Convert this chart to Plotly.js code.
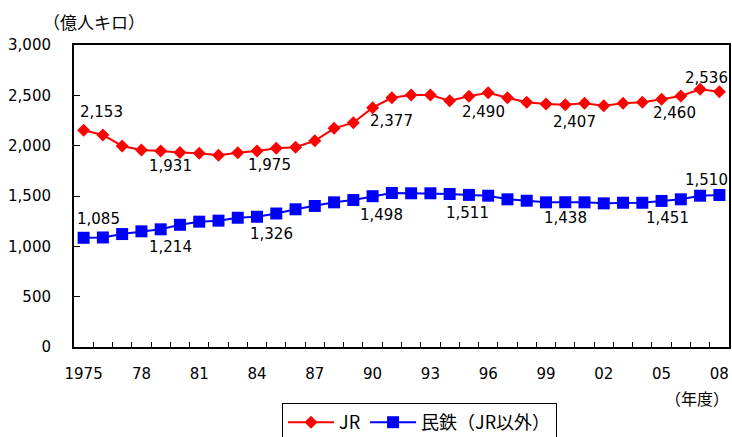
<!DOCTYPE html>
<html>
<head>
<meta charset="utf-8">
<script src="https://cdn.plot.ly/plotly-3.0.1.min.js"></script>
<style>html,body{margin:0;padding:0;background:#fff;}#chart{width:732px;height:437px;}</style>
</head>
<body>
<div id="chart"></div>
<script>
// ---- data ----
const years = [1975,1976,1977,1978,1979,1980,1981,1982,1983,1984,1985,1986,1987,1988,1989,1990,1991,1992,1993,1994,1995,1996,1997,1998,1999,2000,2001,2002,2003,2004,2005,2006,2007,2008];
const jr = [2153,2106,1997,1957,1947,1931,1924,1904,1930,1947,1975,1984,2049,2172,2228,2377,2476,2503,2503,2447,2490,2526,2476,2431,2414,2407,2421,2397,2421,2431,2460,2493,2560,2536];
const minetsu = [1085,1088,1122,1149,1169,1214,1245,1255,1284,1294,1326,1368,1401,1437,1460,1498,1530,1527,1527,1520,1511,1503,1467,1453,1437,1438,1437,1427,1433,1433,1451,1467,1503,1510];
const xTickVals = [1975,1978,1981,1984,1987,1990,1993,1996,1999,2002,2005,2008];
const xTickText = ["1975","78","81","84","87","90","93","96","99","02","05","08"];
const labelYears = [1975,1980,1985,1990,1995,2000,2005,2008];
const seriesNames = ["JR","民鉄（JR以外）"];
const yUnit = "（億人キロ）";
const xUnit = "（年度）";

// ---- styling / label positions ----
const FONT = "'DejaVu Sans', 'Noto Sans CJK JP', sans-serif";
const JFONT = "'Noto Sans CJK JP', sans-serif";
const jrOffsets = {1975:[18,-18],1980:[-9,13],1985:[-7,17],1990:[19,13],1995:[15,16],2000:[9,17],2005:[13,14],2008:[-13,-14]};
const miOffsets = {1975:[15,-19],1980:[-9,22],1985:[-5,20],1990:[9,19],1995:[-1,18],2000:[0,16],2005:[6,17],2008:[-13,-15]};

function fmt(v){ return v.toLocaleString('en-US'); }

const annotations = [];
function addLabels(vals, offs){
  labelYears.forEach(function(yr){
    const i = years.indexOf(yr);
    const o = offs[yr];
    annotations.push({x: yr, y: vals[i], xref:'x', yref:'y', text: fmt(vals[i]), showarrow:false,
      xanchor:'center', yanchor:'middle', xshift:o[0], yshift:-o[1], font:{family:FONT, size:15, color:'#000'}});
  });
}
addLabels(jr, jrOffsets);
addLabels(minetsu, miOffsets);
annotations.push({x:(93.5-74)/655, y:(347-21.7)/302, xref:'paper', yref:'paper', text:yUnit, showarrow:false,
  xanchor:'center', yanchor:'middle', font:{family:JFONT, size:17, color:'#000'}});
annotations.push({x:(731-74)/655, y:(347-398.3)/302, xref:'paper', yref:'paper', text:xUnit, showarrow:false,
  xanchor:'right', yanchor:'middle', font:{family:JFONT, size:16, color:'#000'}});

const boundaries = [];
for (let k = 0; k <= years.length; k++) boundaries.push(years[0] - 0.5 + k);

const traces = [
  {x: years, y: jr, name: seriesNames[0], type:'scatter', mode:'lines+markers',
   line:{color:'#ff0000', width:2}, marker:{symbol:'diamond', size:10, color:'#ff0000'}},
  {x: years, y: minetsu, name: seriesNames[1], type:'scatter', mode:'lines+markers',
   line:{color:'#0000ff', width:2}, marker:{symbol:'square', size:12, color:'#0000ff'}},
  {x: [years[0]], y: [0], xaxis:'x2', yaxis:'y', mode:'markers', marker:{opacity:0}, showlegend:false, hoverinfo:'skip'}
];

const xr = [years[0]-0.5, years[years.length-1]+0.5];
const layout = {
  width:732, height:437,
  margin:{l:74, r:3, t:45, b:90, autoexpand:false},
  paper_bgcolor:'#fff', plot_bgcolor:'#fff',
  showlegend:true,
  font:{family:FONT, size:15, color:'#000'},
  xaxis:{range:xr, tickmode:'array', tickvals:boundaries, showticklabels:false,
    ticks:'inside', ticklen:5, tickcolor:'#000', tickwidth:1, automargin:false,
    showline:true, linecolor:'#000', linewidth:2, mirror:true, showgrid:false, zeroline:false, fixedrange:true},
  xaxis2:{range:xr, overlaying:'x', anchor:'y', side:'bottom', tickmode:'array', tickvals:xTickVals, ticktext:xTickText,
    ticks:'', showline:false, showgrid:false, zeroline:false, ticklabelstandoff:16, automargin:false,
    tickfont:{family:FONT, size:15, color:'#000'}},
  yaxis:{range:[0,3000], dtick:500, tickformat:',d', ticks:'inside', ticklen:6, tickcolor:'#000', automargin:false,
    showline:true, linecolor:'#000', linewidth:2, mirror:true, showgrid:false, zeroline:false,
    ticklabelstandoff:18, tickfont:{family:FONT, size:15, color:'#000'}},
  legend:{orientation:'h', x:(282-74)/655, xanchor:'left', y:(347-403)/302, yanchor:'top',
    bordercolor:'#000', borderwidth:1, bgcolor:'#fff', font:{family:JFONT, size:18, color:'#000'},
    itemwidth:46, tracegroupgap:0, itemclick:false, itemdoubleclick:false},
  annotations: annotations
};

Plotly.newPlot('chart', traces, layout, {staticPlot:true, displayModeBar:false});
</script>
</body>
</html>
